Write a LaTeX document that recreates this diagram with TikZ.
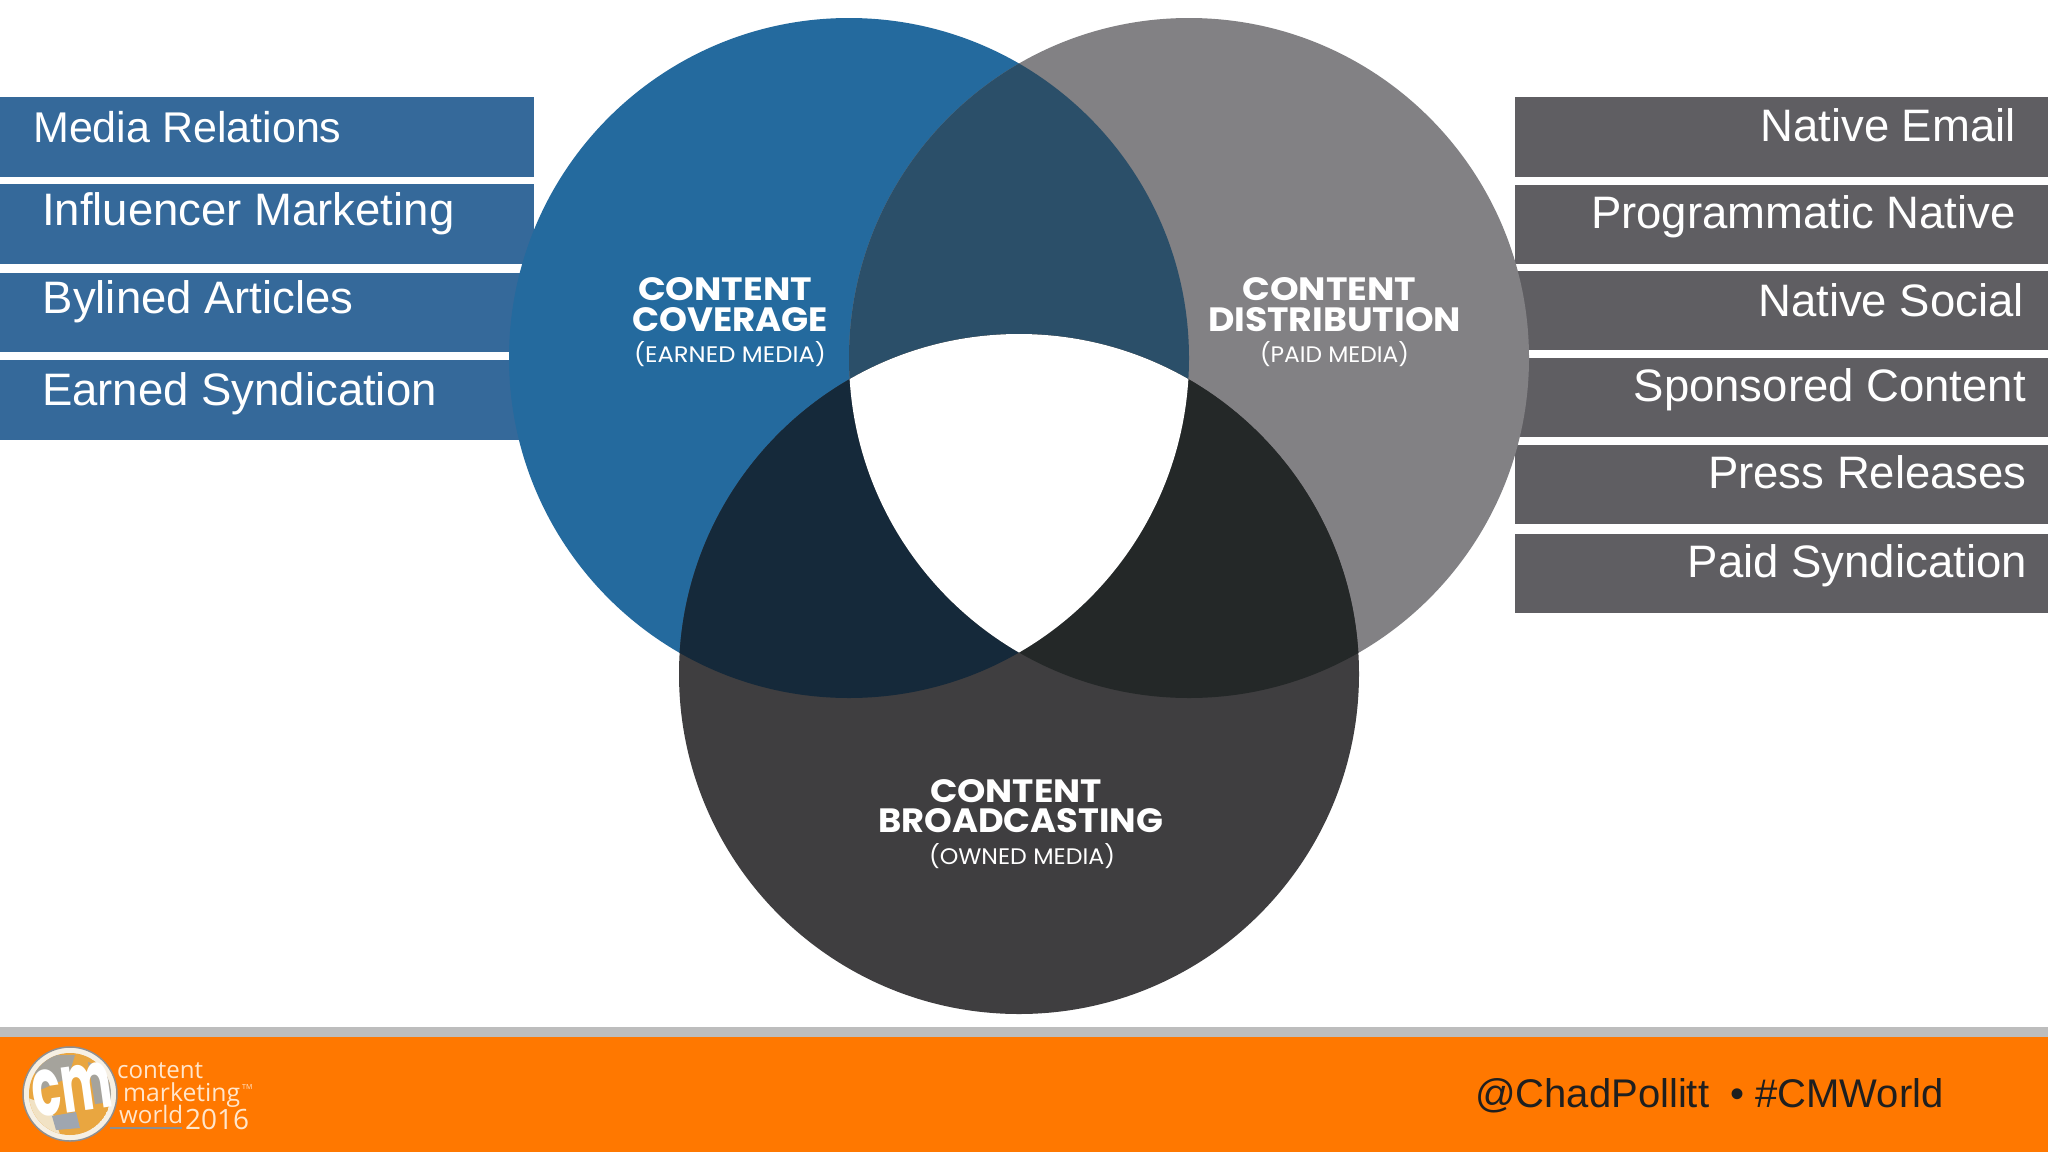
\documentclass[tikz,border=0pt]{standalone}
\usepackage{fontspec}
\setmainfont{Liberation Sans}
\newfontfamily\labfont{Poppins}
\newfontfamily\logofont{Open Sans}
\definecolor{barblue}{HTML}{35699A}
\definecolor{bargray}{HTML}{5F5E62}
\definecolor{cblue}{HTML}{246A9E}
\definecolor{cgray}{HTML}{828184}
\definecolor{cdark}{HTML}{3F3E40}
\definecolor{ovbg}{HTML}{2B4F69}
\definecolor{ovbd}{HTML}{15293A}
\definecolor{ovgd}{HTML}{242828}
\definecolor{footorange}{HTML}{FF7800}
\definecolor{footgray}{HTML}{BDBDBD}
\definecolor{logotext}{HTML}{FFE6CC}
\definecolor{logoring}{HTML}{F6F0E4}
\definecolor{logoedge}{HTML}{8F8F90}
\definecolor{logotan}{HTML}{E9A640}
\definecolor{logogrey}{HTML}{A5A39C}
\definecolor{logoblue}{HTML}{9FA6B0}
\definecolor{logocream}{HTML}{F1E2C4}
\newcommand{\labtxt}[3]{\resizebox{#1pt}{#2pt}{\labfont\bfseries #3}}
\newcommand{\subtxt}[3]{\resizebox{#1pt}{#2pt}{\labfont #3}}
\newcommand{\logow}[2]{\resizebox{#1pt}{!}{\logofont #2}}
\tikzset{
  barL/.style={fill=barblue,draw=none},
  barR/.style={fill=bargray,draw=none},
  itemL/.style={anchor=base west,inner sep=0pt,text=white,xshift=1pt,yshift=-1pt,font=\fontsize{45.5}{52}\selectfont},
  itemR/.style={anchor=base east,inner sep=0pt,text=white,xshift=1pt,yshift=-1pt,font=\fontsize{45.5}{52}\selectfont},
  lab/.style={anchor=center,inner sep=0pt,text=white},
  logotxt/.style={anchor=base west,inner sep=0pt,text=logotext},
}
\begin{document}
\begin{tikzpicture}[x=1pt,y=-1pt]
\path[use as bounding box,fill=white] (0,0) rectangle (2048,1152);

% bars
\fill[barL] (0,97) rectangle (534,177);
\fill[barL] (0,184) rectangle (534,264);
\fill[barL] (0,272.5) rectangle (534,352);
\fill[barL] (0,360) rectangle (534,439.5);
\fill[barR] (1515,96.5) rectangle (2048,177);
\fill[barR] (1515,184.5) rectangle (2048,264);
\fill[barR] (1515,270.5) rectangle (2048,350);
\fill[barR] (1515,358) rectangle (2048,437);
\fill[barR] (1515,444.5) rectangle (2048,524);
\fill[barR] (1515,533.5) rectangle (2048,613);

% circles
\coordinate (cB) at (849,358);
\coordinate (cG) at (1189,358);
\coordinate (cD) at (1019,674);
\def\rr{340}
\fill[cblue] (cB) circle (\rr);
\fill[cgray] (cG) circle (\rr);
\fill[cdark] (cD) circle (\rr);
\begin{scope}
  \clip (cB) circle (\rr);
  \fill[ovbg] (cG) circle (\rr);
  \fill[ovbd] (cD) circle (\rr);
\end{scope}
\begin{scope}
  \clip (cG) circle (\rr);
  \fill[ovgd] (cD) circle (\rr);
\end{scope}
\begin{scope}
  \clip (cB) circle (\rr);
  \clip (cG) circle (\rr);
  \fill[white] (cD) circle (\rr);
\end{scope}

% left items
\node[itemL,font=\fontsize{43}{50}\selectfont] (l1) at (32,141) {Media Relations};
\node[itemL] (l2) at (41,224) {Influencer Marketing};
\node[itemL] (l3) at (41.5,312.5) {Bylined Articles};
\node[itemL] (l4) at (41,404) {Earned Syndication};
% right items
\node[itemR] (r1) at (2015,140) {Native Email};
\node[itemR] (r2) at (2015,227) {Programmatic Native};
\node[itemR] (r3) at (2023,315) {Native Social};
\node[itemR] (r4) at (2025,400.5) {Sponsored Content};
\node[itemR] (r5) at (2026,487.5) {Press Releases};
\node[itemR] (r6) at (2026,576.5) {Paid Syndication};

% circle labels
\node[lab] (a1) at (725,289) {\labtxt{174}{23}{CONTENT}};
\node[lab] (a2) at (730,319.5) {\labtxt{196}{24}{COVERAGE}};
\node[lab] (a3) at (730,354) {\subtxt{192}{21}{(EARNED MEDIA)}};
\node[lab] (b1) at (1329.5,289) {\labtxt{174}{23}{CONTENT}};
\node[lab] (b2) at (1334.5,319.5) {\labtxt{253}{24}{DISTRIBUTION}};
\node[lab] (b3) at (1334.5,354) {\subtxt{149}{21}{(PAID MEDIA)}};
\node[lab] (c1) at (1016,791) {\labtxt{172}{23}{CONTENT}};
\node[lab] (c2) at (1020.5,821) {\labtxt{285}{24}{BROADCASTING}};
\node[lab] (c3) at (1022,856) {\subtxt{186}{21}{(OWNED MEDIA)}};

% footer
\fill[footgray] (0,1027) rectangle (2048,1037);
\fill[footorange] (0,1037) rectangle (2048,1152);
\node[anchor=base west,inner sep=0pt,text=black!88,font=\fontsize{40}{48}\selectfont] (tag) at (1475,1107) {@ChadPollitt};
\node[anchor=base west,inner sep=0pt,text=black!88,font=\fontsize{40}{48}\selectfont] (tag2) at (1730,1107) {• \#CMWorld};

% logo
\coordinate (lg) at (70,1094);
\fill[logoring] (lg) circle (47);
\draw[logoedge,line width=1.5pt] (lg) circle (47);
\begin{scope}
  \clip (lg) circle (41);
  \fill[logotan] (lg) circle (41);
  \fill[logogrey] (30,1055) -- (75,1055) -- (68,1078) -- (40,1090) -- cycle;
  \fill[logogrey] (88,1062) -- (112,1070) -- (112,1102) -- (95,1104) -- cycle;
  \fill[logocream] (28,1098) -- (50,1106) -- (62,1140) -- (28,1140) -- cycle;
  \fill[logoblue] (52,1116) -- (76,1112) -- (80,1128) -- (56,1130) -- cycle;
\end{scope}
\node[anchor=center,inner sep=0pt,text=white,rotate=8] (cm) at (72,1089) {\resizebox{80pt}{46pt}{\labfont\bfseries cm}};
\node[logotxt] (lt1) at (117,1078) {\logow{86}{content}};
\node[logotxt] (lt2) at (123,1101) {\logow{117}{marketing}};
\node[logotxt] (lt3) at (119,1123) {\logow{64}{world}};
\node[logotxt] (lt4) at (185,1129) {\logow{64}{2016}};
\node[logotxt,font=\fontsize{7}{8}\logofont\selectfont] (lt5) at (242,1089) {TM};
\coordinate (ul1) at (110,1128);
\coordinate (ul2) at (182,1128);
\draw[logoedge,line width=1.5pt] (ul1) -- (ul2);
\end{tikzpicture}
\end{document}
